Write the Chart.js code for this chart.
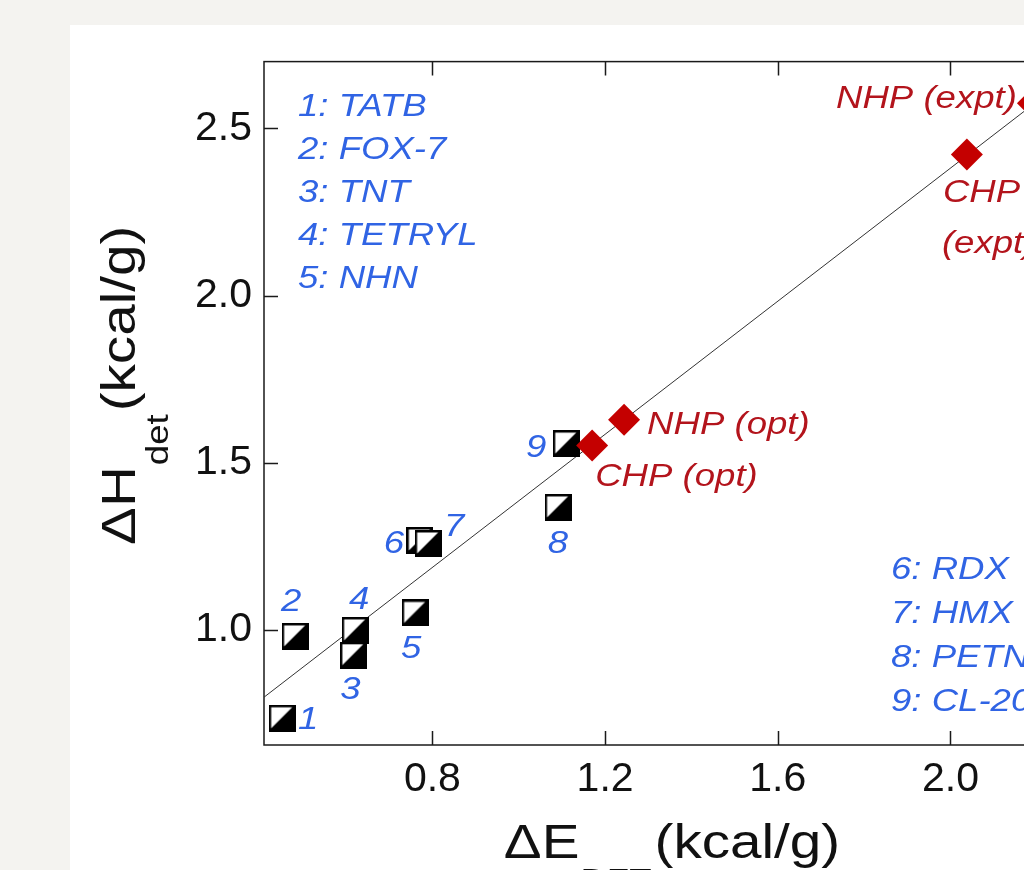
<!DOCTYPE html>
<html>
<head>
<meta charset="utf-8">
<script src="https://cdn.jsdelivr.net/npm/chart.js@4.4.0/dist/chart.umd.min.js"></script>
<style>
html, body { margin: 0; padding: 0; width: 1024px; height: 870px; overflow: hidden; background: #f4f3f0; }
#painel { position: absolute; left: 70px; top: 25px; width: 1100px; height: 900px; background: #fff; }
canvas { display: block; }
</style>
</head>
<body>
<div id="painel"><canvas id="grafico" width="1100" height="900"></canvas></div>
<script>
// explosives (numbered squares)
const numeros = ['1', '2', '3', '4', '5', '6', '7', '8', '9'];
const dftExpl = [0.452, 0.482, 0.617, 0.621, 0.760, 0.771, 0.790, 1.091, 1.110];
const detExpl = [0.735, 0.980, 0.924, 0.998, 1.050, 1.267, 1.258, 1.366, 1.557];
const nomesA = ['1: TATB', '2: FOX-7', '3: TNT', '4: TETRYL', '5: NHN'];
const nomesB = ['6: RDX', '7: HMX', '8: PETN', '9: CL-20'];

// red diamonds
const rotulosHP = ['CHP (opt)', 'NHP (opt)', 'CHP (expt)', 'NHP (expt)'];
const dftHP = [1.170, 1.244, 2.038, 2.191];
const detHP = [1.551, 1.628, 2.422, 2.575];

// fitted line
const ajusteX = [0.41, 2.30];
const ajusteY = [0.798, 2.68];

const ticksX = [0.8, 1.2, 1.6, 2.0];
const ticksY = [1.0, 1.5, 2.0, 2.5];

const fonte = "'Liberation Sans', Arial, sans-serif";
const azul = '#3064e4';
const vermelho = '#b3141c';

function criarQuadrado(tam) {
    const c = document.createElement('canvas');
    c.width = tam;
    c.height = tam;
    const g = c.getContext('2d');
    g.fillStyle = '#000';
    g.fillRect(0, 0, tam, tam);
    const b = 2.5;
    g.fillStyle = '#fff';
    g.beginPath();
    g.moveTo(b, b);
    g.lineTo(tam - b - 1, b);
    g.lineTo(b, tam - b - 1);
    g.closePath();
    g.fill();
    return c;
}

function texto(ctx, str, x, y, align, sx) {
    ctx.save();
    ctx.translate(x, y);
    ctx.scale(sx, 1);
    ctx.textAlign = align;
    ctx.fillText(str, 0, 0);
    ctx.restore();
}

// title with subscript, centred on (0,0)
function tituloSub(ctx, principal, sub, resto) {
    const sx = 1.18;
    ctx.font = '48px ' + fonte;
    const w1 = ctx.measureText(principal).width * sx;
    const w3 = ctx.measureText(resto).width * sx;
    ctx.font = '31px ' + fonte;
    const w2 = ctx.measureText(sub).width * sx;
    let x = -(w1 + w2 + w3 + 4) / 2;
    ctx.font = '48px ' + fonte;
    texto(ctx, principal, x, 0, 'left', sx);
    x += w1 + 1;
    ctx.font = '31px ' + fonte;
    texto(ctx, sub, x, 33, 'left', sx);
    x += w2 + 3;
    ctx.font = '48px ' + fonte;
    texto(ctx, resto, x, 0, 'left', sx);
}

const numOffsets = [[26, 0], [-4, -36], [-3, 33], [4, -32], [-4, 34], [-26, 2], [26, -18], [0, 35], [-30, 2]];

const molduraPlugin = {
    id: 'moldura',
    beforeDatasetsDraw(chart) {
        const { ctx, chartArea: a, scales: { x, y } } = chart;
        ctx.save();
        ctx.strokeStyle = '#1a1a1a';
        ctx.lineWidth = 1.5;
        ctx.strokeRect(a.left, a.top, a.right - a.left, a.bottom - a.top);
        ctx.beginPath();
        x.ticks.forEach(t => {
            const px = Math.round(x.getPixelForValue(t.value)) + 0.5;
            ctx.moveTo(px, a.bottom);
            ctx.lineTo(px, a.bottom - 14);
            ctx.moveTo(px, a.top);
            ctx.lineTo(px, a.top + 14);
        });
        y.ticks.forEach(t => {
            const py = Math.round(y.getPixelForValue(t.value)) + 0.5;
            ctx.moveTo(a.left, py);
            ctx.lineTo(a.left + 14, py);
            ctx.moveTo(a.right, py);
            ctx.lineTo(a.right - 14, py);
        });
        ctx.stroke();
        ctx.restore();
    },
    afterDatasetsDraw(chart) {
        const { ctx, chartArea: a, scales: { x, y } } = chart;
        const sx = 1.18;
        ctx.save();
        ctx.font = 'italic 31px ' + fonte;
        ctx.textBaseline = 'alphabetic';

        // numbers next to squares
        ctx.fillStyle = azul;
        numeros.forEach((n, i) => {
            const px = x.getPixelForValue(dftExpl[i]) + numOffsets[i][0];
            const py = y.getPixelForValue(detExpl[i]) + numOffsets[i][1];
            texto(ctx, n, px, py + 11, 'center', sx);
        });

        // name lists
        nomesA.forEach((s, i) => texto(ctx, s, a.left + 34, a.top + 54 + i * 43, 'left', sx));
        nomesB.forEach((s, i) => texto(ctx, s, a.left + 627, a.top + 517 + i * 44, 'left', sx));

        // diamond labels
        ctx.fillStyle = vermelho;
        const p = i => [x.getPixelForValue(dftHP[i]), y.getPixelForValue(detHP[i])];
        let [px, py] = p(0);
        texto(ctx, rotulosHP[0], px + 3, py + 40, 'left', sx);
        [px, py] = p(1);
        texto(ctx, rotulosHP[1], px + 23, py + 14, 'left', sx);
        [px, py] = p(2);
        const partes = rotulosHP[2].split(' ');
        texto(ctx, partes[0], px - 24, py + 47, 'left', sx);
        texto(ctx, partes[1], px - 25, py + 98, 'left', sx);
        [px, py] = p(3);
        texto(ctx, rotulosHP[3], px - 16, py + 5, 'right', sx);
        ctx.restore();
    },
    afterDraw(chart) {
        const { ctx, chartArea: a } = chart;
        ctx.save();
        ctx.fillStyle = '#111';
        ctx.textBaseline = 'alphabetic';
        // x title
        ctx.save();
        ctx.translate((a.left + a.right) / 2, a.bottom + 113);
        tituloSub(ctx, '\u0394E', 'DFT', '(kcal/g)');
        ctx.restore();
        // y title
        ctx.save();
        ctx.translate(65, (a.top + a.bottom) / 2 - 18);
        ctx.rotate(-Math.PI / 2);
        tituloSub(ctx, '\u0394H', 'det', '(kcal/g)');
        ctx.restore();
        ctx.restore();
    }
};

function inicializarGrafico() {
    const ctx = document.getElementById('grafico');
    new Chart(ctx.getContext('2d'), {
        type: 'scatter',
        data: {
            datasets: [
                {
                    data: dftHP.map((v, i) => ({ x: v, y: detHP[i] })),
                    pointStyle: 'rectRot',
                    pointRadius: 16,
                    backgroundColor: '#c40000',
                    borderColor: '#c40000',
                    borderWidth: 0
                },
                {
                    data: dftExpl.map((v, i) => ({ x: v, y: detExpl[i] })),
                    pointStyle: criarQuadrado(27),
                    pointRadius: 14
                },
                {
                    data: ajusteX.map((v, i) => ({ x: v, y: ajusteY[i] })),
                    showLine: true,
                    borderColor: '#333',
                    borderWidth: 1,
                    pointRadius: 0
                }
            ]
        },
        options: {
            responsive: false,
            animation: false,
            events: [],
            layout: { padding: { top: 35, right: 90, left: 0, bottom: 0 } },
            plugins: {
                legend: { display: false },
                tooltip: { enabled: false }
            },
            scales: {
                x: {
                    type: 'linear',
                    min: 0.41,
                    max: 2.30,
                    afterBuildTicks: s => { s.ticks = ticksX.map(v => ({ value: v })); },
                    afterFit: s => { s.height = 180; },
                    border: { display: false },
                    grid: { display: false, drawTicks: false },
                    ticks: {
                        color: '#111',
                        padding: 10,
                        maxRotation: 0,
                        font: { family: fonte, size: 41 },
                        callback: v => v.toFixed(1)
                    }
                },
                y: {
                    type: 'linear',
                    min: 0.655,
                    max: 2.70,
                    afterBuildTicks: s => { s.ticks = ticksY.map(v => ({ value: v })); },
                    afterFit: s => { s.width = 194; },
                    border: { display: false },
                    grid: { display: false, drawTicks: false },
                    ticks: {
                        color: '#111',
                        padding: 12,
                        font: { family: fonte, size: 41 },
                        callback: v => v.toFixed(1)
                    }
                }
            }
        },
        plugins: [molduraPlugin]
    });
}

document.addEventListener('DOMContentLoaded', inicializarGrafico);
</script>
</body>
</html>
